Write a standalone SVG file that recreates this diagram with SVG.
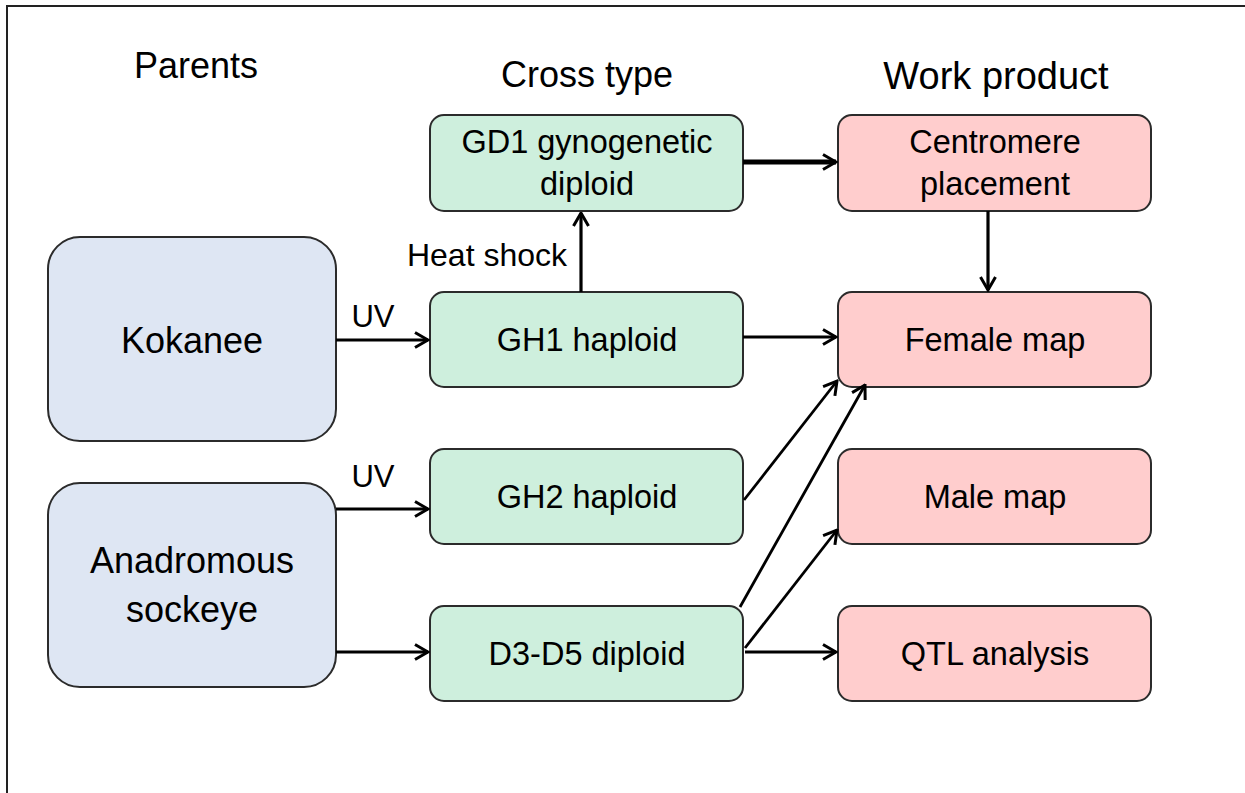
<svg xmlns="http://www.w3.org/2000/svg" width="1245" height="793" viewBox="0 0 1245 793">
<style>
text{font-family:"Liberation Sans",Arial,sans-serif;font-size:32.5px;fill:#000;text-anchor:middle}
.h{font-size:36px}
.pt{font-size:36px}
.box{stroke:#2b2b2b;stroke-width:2}
.p{fill:#dee6f3}
.g{fill:#ceefdd}
.r{fill:#ffcdcd}
.c{stroke:#000;stroke-width:3.2;fill:none;marker-end:url(#ah)}
</style>
<defs>
<marker id="ah" viewBox="0 0 16 18" refX="14.5" refY="9" markerWidth="16" markerHeight="18" markerUnits="userSpaceOnUse" orient="auto">
<path d="M1.5,1.5 L14.5,9 L1.5,16.5" fill="none" stroke="#000" stroke-width="3"/>
</marker>
</defs>
<rect width="1245" height="793" fill="#fff"/>
<path d="M7,793 V6 H1245" fill="none" stroke="#222" stroke-width="2"/>
<text class="h" x="196" y="78">Parents</text>
<text class="h" x="587" y="87">Cross type</text>
<text class="h" x="996" y="89" style="font-size:38px">Work product</text>
<g id="kokanee"><rect class="box p" x="48" y="237" width="288" height="204" rx="32"/><text class="pt" x="192" y="353">Kokanee</text></g>
<g id="sockeye"><rect class="box p" x="48" y="483" width="288" height="204" rx="32"/><text class="pt" x="192" y="573">Anadromous</text><text class="pt" x="192" y="622">sockeye</text></g>
<g id="gd1"><rect class="box g" x="430" y="115" width="313" height="96" rx="14"/><text x="587" y="153">GD1 gynogenetic</text><text x="587" y="195">diploid</text></g>
<g id="gh1"><rect class="box g" x="430" y="292" width="313" height="95" rx="14"/><text x="587" y="351">GH1 haploid</text></g>
<g id="gh2"><rect class="box g" x="430" y="449" width="313" height="95" rx="14"/><text x="587" y="508">GH2 haploid</text></g>
<g id="d3d5"><rect class="box g" x="430" y="606" width="313" height="95" rx="14"/><text x="587" y="665">D3-D5 diploid</text></g>
<g id="centromere"><rect class="box r" x="838" y="115" width="313" height="96" rx="14"/><text x="995" y="153">Centromere</text><text x="995" y="195">placement</text></g>
<g id="female"><rect class="box r" x="838" y="292" width="313" height="95" rx="14"/><text x="995" y="351">Female map</text></g>
<g id="male"><rect class="box r" x="838" y="449" width="313" height="95" rx="14"/><text x="995" y="508">Male map</text></g>
<g id="qtl"><rect class="box r" x="838" y="606" width="313" height="95" rx="14"/><text x="995" y="665">QTL analysis</text></g>
<g id="connectors">
<path class="c" d="M336,340 H428"/>
<path class="c" d="M336,509 H428"/>
<path class="c" d="M336,652 H428"/>
<path class="c" d="M581,292 V213"/>
<path class="c" d="M743,162 H836" style="stroke-width:4.8"/>
<path class="c" d="M743,337 H836"/>
<path class="c" d="M988,211 V290"/>
<path class="c" d="M744,500 L837,381" style="stroke-width:2.8"/>
<path class="c" d="M740,607 L865,385" style="stroke-width:2.8"/>
<path class="c" d="M745,648 L837,530" style="stroke-width:2.8"/>
<path class="c" d="M745,652 H836"/>
<text x="373" y="327" style="font-size:31px">UV</text>
<text x="373" y="487" style="font-size:31px">UV</text>
<text x="487" y="266" style="font-size:32px">Heat shock</text>
</g>
</svg>
